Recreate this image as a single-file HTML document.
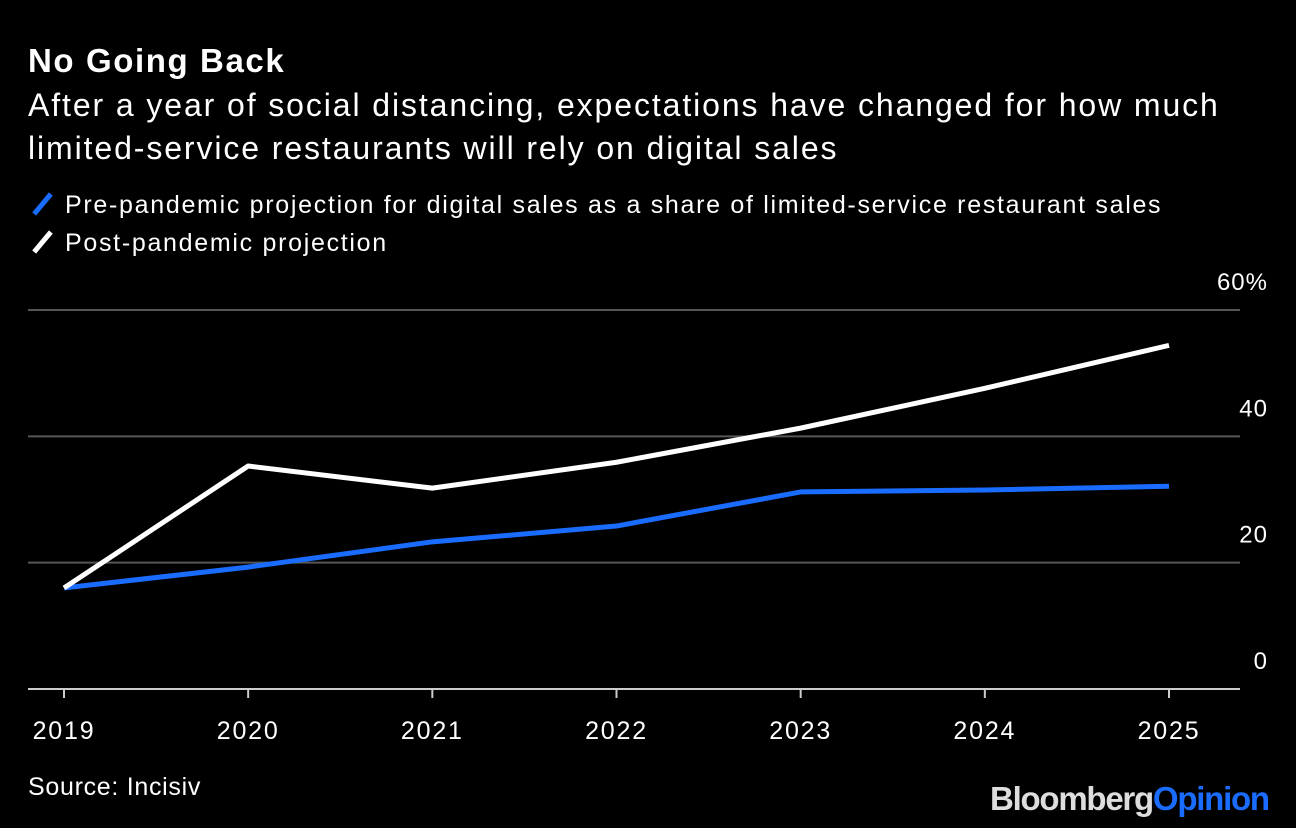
<!DOCTYPE html>
<html><head><meta charset="utf-8"><style>
body{margin:0;background:#000;width:1296px;height:828px;overflow:hidden;font-family:"Liberation Sans",Arial,sans-serif;color:#fff;position:relative}
.t{position:absolute;white-space:nowrap}
</style></head><body>
<div class="t" style="left:28px;top:42px;font-size:33px;font-weight:bold;letter-spacing:1.6px">No Going Back</div>
<div class="t" style="left:28px;top:84px;font-size:32px;line-height:43px;letter-spacing:1.9px">After a year of social distancing, expectations have changed for how much<br>limited-service restaurants will rely on digital sales</div>
<div class="t" style="left:28px;top:191px;font-size:25px;letter-spacing:1.7px"><span style="display:inline-block;width:5px;height:26px;background:#1a6cff;transform:rotate(40deg);margin:0 20px -4px 12px"></span>Pre-pandemic projection for digital sales as a share of limited-service restaurant sales</div>
<div class="t" style="left:28px;top:229px;font-size:25px;letter-spacing:1.7px"><span style="display:inline-block;width:5px;height:26px;background:#fff;transform:rotate(40deg);margin:0 20px -4px 12px"></span>Post-pandemic projection</div>
<svg id="c" width="1296" height="828" style="position:absolute;left:0;top:0"></svg>
<div class="t" style="left:28px;top:773px;font-size:25px;letter-spacing:0.7px">Source: Incisiv</div>
<div class="t" style="left:990px;top:780px;font-size:33px;font-weight:bold;letter-spacing:-1.25px;color:#ddd">Bloomberg<span style="color:#1a6cff">Opinion</span></div>
<script>
const years=["2019","2020","2021","2022","2023","2024","2025"];
const preVals=[16.0,19.3,23.3,25.8,31.2,31.5,32.1];
const postVals=[16.0,35.3,31.8,35.9,41.3,47.6,54.4];
const yTicks=[0,20,40,60];
const yLabels=["0","20","40","60%"];
const svg=document.getElementById('c');const NS="http://www.w3.org/2000/svg";
const x=i=>64+i*(1169-64)/(years.length-1);
const y=v=>689-v*(689-310)/60;
function mk(t,a){const e=document.createElementNS(NS,t);for(const k in a)e.setAttribute(k,a[k]);svg.appendChild(e);return e;}
yTicks.forEach((v,i)=>{
 if(v>0){const g=mk('line',{x1:28,x2:1240,y1:y(v),y2:y(v),stroke:'#555','stroke-width':2});
 
 }
 const t=mk('text',{x:1268,y:y(v)-20,'text-anchor':'end',fill:'#fff','font-size':24,'letter-spacing':1,'font-family':'Liberation Sans, sans-serif'});
 t.textContent=yLabels[i];
 
 
});
const ax=mk('line',{x1:28,x2:1240,y1:689,y2:689,stroke:'#ccc','stroke-width':2});


years.forEach((yr,i)=>{
 const tk=mk('line',{x1:x(i),x2:x(i),y1:689,y2:698,stroke:'#ccc','stroke-width':2});
 
 
 const t=mk('text',{x:x(i),y:739,'text-anchor':'middle',fill:'#fff','font-size':25,'letter-spacing':1.8,'font-family':'Liberation Sans, sans-serif'});
 t.textContent=yr;
 
 
});
function line(vals,col,name){
 const p=mk('polyline',{points:vals.map((v,i)=>x(i)+','+y(v)).join(' '),fill:'none',stroke:col,'stroke-width':5,'stroke-linejoin':'round'});
 
 
}
line(preVals,'#1a6cff','pre-pandemic-line');
line(postVals,'#fff','post-pandemic-line');
</script>
</body></html>
